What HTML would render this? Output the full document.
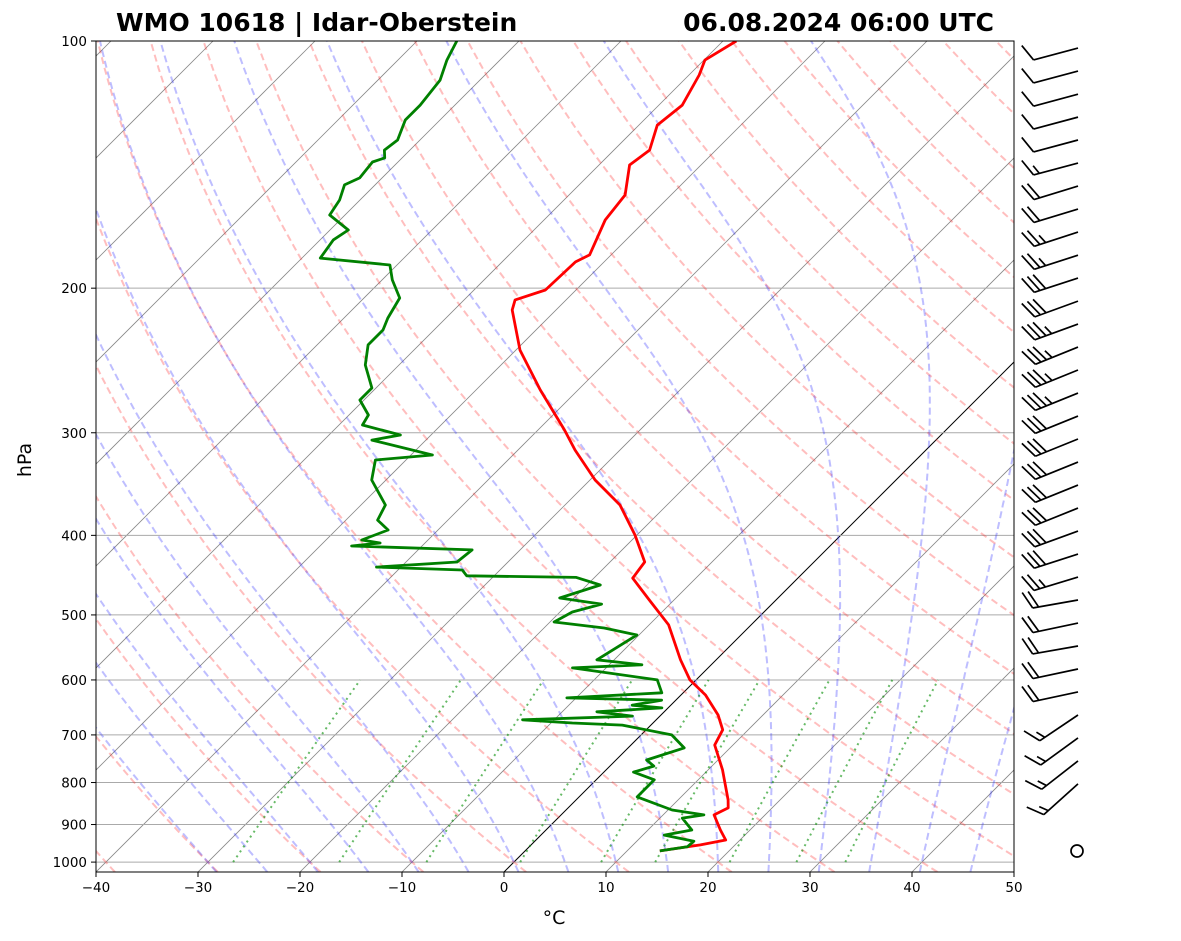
<!DOCTYPE html>
<html><head><meta charset="utf-8"><style>
body{margin:0;background:#fff}
svg{display:block;font-family:"DejaVu Sans","Liberation Sans",sans-serif}
</style></head><body>
<svg id="c" width="1181" height="941" viewBox="0 0 1181 941">
<defs><clipPath id="clip"><rect x="96" y="41" width="918" height="831"/></clipPath></defs>
<g id="bg" clip-path="url(#clip)"></g>
<g id="series" clip-path="url(#clip)"></g>
<rect x="96" y="41" width="918" height="831" fill="none" stroke="#000" stroke-width="1"/>
<g id="axes"></g>
<g id="barbs"></g>
<text x="116" y="31" font-size="25" font-weight="bold">WMO 10618 | Idar-Oberstein</text>
<text x="994" y="31" font-size="25" font-weight="bold" text-anchor="end">06.08.2024 06:00 UTC</text>
<text x="0" y="0" font-size="19" text-anchor="middle" transform="translate(31,460) rotate(-90)">hPa</text>
<text x="554" y="924" font-size="19" text-anchor="middle">°C</text>
</svg>
<script>
const tempP=[100,105.5,110,119.7,126.6,135.8,141.6,154,165.2,182.2,185.8,201,206.7,212.6,237.9,266.1,297.7,314.9,342.5,367.4,399.6,431,450.9,479.6,514,567,600,625.8,662,690,720,772,840,859,876,914,940,953,969];
const tempT=[-58.7,-59.9,-59.0,-57.7,-58.2,-56.5,-57.0,-54.5,-54.0,-52.1,-52.8,-53.0,-55.0,-54.3,-49.6,-43.7,-37.4,-34.4,-29.5,-24.6,-20.2,-16.6,-16.2,-12.4,-8.1,-3.5,-0.6,2.4,5.6,7.5,8.2,11.4,14.9,15.7,15.0,17.1,18.6,16.6,13.2];
const dewP=[100,105.5,111.6,119.7,124.8,132,135.8,138.8,140.4,146.8,149.7,156.2,162.9,169.9,174.7,183.8,187.4,195.4,205.6,217.5,224.9,234.5,248.1,264.6,273.7,285.4,293.5,301.9,306.2,319.3,323.8,342.5,367.4,383.2,394,405.2,408.7,412.1,416.7,431,437.2,440.8,448,450,459.7,476.8,485,495.9,510,518.7,529,567,575,580,600,622,631,635,644,649,656,664,671,677,681,700,726,751,764,777,794,833,864,876,884,914,927,943,958,969];
const dewT=[-86.1,-85.2,-83.9,-83.4,-83.4,-82.2,-82.5,-81.7,-82.5,-82.2,-83.0,-82.0,-81.5,-78.2,-78.7,-78.2,-70.7,-69.0,-66.5,-65.7,-65.0,-65.0,-63.3,-60.4,-60.4,-58.1,-57.7,-53.0,-55.3,-47.9,-53.0,-51.4,-47.6,-46.9,-44.9,-46.5,-44.4,-46.9,-34.7,-35.0,-42.4,-33.7,-32.7,-21.8,-18.7,-21.4,-16.7,-18.8,-19.6,-14.1,-10.2,-11.7,-6.8,-13.3,-3.8,-2.1,-10.9,-1.4,-3.8,-0.6,-6.6,-2.7,-13.1,-7.9,-2.8,3.0,5.5,3.0,4.3,2.9,5.7,5.7,10.4,14.0,12.2,14.3,12.1,15.6,15.5,13.2];
const barbP=[102,108.8,116.1,123.8,132,140.8,150.2,160.2,170.9,182.3,194.4,207.4,221.2,235.9,251.6,268.4,286.3,305.3,325.7,347.4,370.5,395.2,421.5,449.6,479.5,511.5,545.5,581.9,620.6,662,706,753,803];
const barbDir=[255,255,255,255,255,255,253,253,252,252,252,250,250,248,248,248,248,248,248,248,248,250,252,253,260,258,260,258,258,236,234,232,228];
const barbSpd=[10,10,10,10,10,15,20,20,25,25,30,30,35,35,35,35,30,30,30,30,30,30,30,25,20,20,20,20,20,15,15,15,15];
const tickP=[100,200,300,400,500,600,700,800,900,1000];
const tickT=[-40,-30,-20,-10,0,10,20,30,40,50];
const dryT0=[-40,-30,-20,-10,0,10,20,30,40,50,60,70,80,90,100,110,120,130,140,150,160,170,180,190,200];
const moistT0=[-30,-25,-20,-15,-10,-5,0,5,10,15,20,25,30,35,40,45,50];
const mixW=[0.0004,0.001,0.002,0.004,0.007,0.01,0.016,0.024,0.032];

const NS='http://www.w3.org/2000/svg';
const yOf=p=>41+356.6*Math.log(p/100);
const xOf=(T,p)=>96+(T+40)*10.2+(872-yOf(p));
function mk(tag,attrs,parent){const e=document.createElementNS(NS,tag);for(const k in attrs)e.setAttribute(k,attrs[k]);parent.appendChild(e);return e;}
const bg=document.getElementById('bg'),ser=document.getElementById('series'),ax=document.getElementById('axes'),bb=document.getElementById('barbs');
const PB=1028;
for(let T=-120;T<=50;T+=10){const l=mk('line',{x1:xOf(T,PB),y1:yOf(PB),x2:xOf(T,100),y2:yOf(100),stroke:T===0?'#000':'#888','stroke-width':T===0?1:0.8},bg);

}
for(const p of tickP){const l=mk('line',{x1:96,y1:yOf(p),x2:1014,y2:yOf(p),stroke:'#aaa','stroke-width':1},bg);

}
function pathOf(pts){return pts.map((q,i)=>(i?'L':'M')+xOf(q[1],q[0]).toFixed(1)+','+yOf(q[0]).toFixed(1)).join('');}
for(const t0 of dryT0){const pts=[];for(let p=PB;p>=95;p-=10){pts.push([p,(t0+273.15)*Math.pow(p/1000,0.2857)-273.15]);}
const e=mk('path',{d:pathOf(pts),fill:'none',stroke:'rgba(255,40,40,0.3)','stroke-width':2,'stroke-dasharray':'7,4'},bg);

}
function dTdp(T,p){const Tc=T-273.15;const es=6.112*Math.exp(17.67*Tc/(Tc+243.5));const rs=0.622*es/(p-es);
return (287.04*T+2.501e6*rs)/(1005.7+2.501e6*2.501e6*rs*0.622/(287.04*T*T))/p;}
for(const t0 of moistT0){let T=t0+273.15,p=1000;const up=[[p,T-273.15]];
while(p>100){const dp=-2;T+=dTdp(T,p)*dp;p+=dp;up.push([p,T-273.15]);}
let T2=t0+273.15;p=1000;const dn=[];while(p<PB){T2+=dTdp(T2,p)*2;p+=2;dn.push([p,T2-273.15]);}
const pts=dn.reverse().concat(up);
const e=mk('path',{d:pathOf(pts),fill:'none',stroke:'rgba(40,40,255,0.3)','stroke-width':2,'stroke-dasharray':'7,4'},bg);

}
for(const w of mixW){const pts=[];for(let p=1000;p>=600;p-=20){const e=p*w/(0.622+w);const l=Math.log(e/6.112);pts.push([p,243.5*l/(17.67-l)]);}
const e=mk('path',{d:pathOf(pts),fill:'none',stroke:'rgba(0,140,0,0.6)','stroke-width':2,'stroke-dasharray':'2,4'},bg);

}
const tp=mk('path',{d:pathOf(tempP.map((p,i)=>[p,tempT[i]])),fill:'none',stroke:'#f00','stroke-width':2.8,'stroke-linejoin':'round'},ser);


const dp=mk('path',{d:pathOf(dewP.map((p,i)=>[p,dewT[i]])),fill:'none',stroke:'#008000','stroke-width':2.8,'stroke-linejoin':'round'},ser);


for(const p of tickP){const y=yOf(p);mk('line',{x1:91,y1:y,x2:96,y2:y,stroke:'#000'},ax);
const t=mk('text',{x:87,y:y+5,'font-size':13.5,'text-anchor':'end'},ax);t.textContent=p;

}
for(const T of tickT){const x=96+(T+40)*10.2;mk('line',{x1:x,y1:872,x2:x,y2:877,stroke:'#000'},ax);
const t=mk('text',{x:x,y:892,'font-size':13.5,'text-anchor':'middle'},ax);t.textContent=(T<0?'\u2212':'')+Math.abs(T);

}
const BX=1078,L=46;
barbP.forEach((p,i)=>{const y=yOf(p);const d=barbDir[i]*Math.PI/180;const ux=Math.sin(d),uy=-Math.cos(d);
const ex=BX+ux*L,ey=y+uy*L;const g=mk('g',{stroke:'#000','stroke-width':1.7,fill:'none'},bb);


mk('line',{x1:BX,y1:y,x2:ex,y2:ey},g);
const nx=-uy,ny=ux;let nnx=-nx,nny=-ny; if(nny>0){nnx=nx;nny=ny;}
let s=barbSpd[i],k=0;
while(s>=10){const bx=ex-ux*k*6,by=ey-uy*k*6;mk('line',{x1:bx,y1:by,x2:bx+(nnx+ux*0.45)*17,y2:by+(nny+uy*0.45)*17},g);s-=10;k++;}
if(s>=5){if(k===0)k=1;const bx=ex-ux*k*6,by=ey-uy*k*6;mk('line',{x1:bx,y1:by,x2:bx+(nnx+ux*0.45)*9,y2:by+(nny+uy*0.45)*9},g);}
});
const calm=mk('circle',{cx:1077,cy:851,r:6,fill:'none',stroke:'#000','stroke-width':1.7},bb);


</script>
</body></html>
